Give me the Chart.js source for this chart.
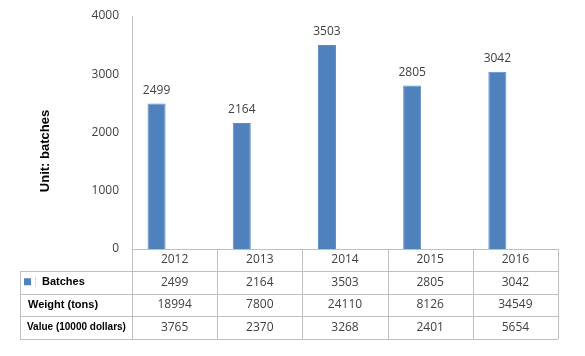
<!DOCTYPE html>
<html>
<head>
<meta charset="utf-8">
<script src="https://cdn.jsdelivr.net/npm/chart.js@4/dist/chart.umd.min.js"></script>
<style>
html,body{margin:0;padding:0;background:#fff;}
#c{display:block;}
</style>
</head>
<body>
<canvas id="c" width="585" height="356"></canvas>
<script>
const years = ['2012', '2013', '2014', '2015', '2016'];
const batches = [2499, 2164, 3503, 2805, 3042];
const weight = [18994, 7800, 24110, 8126, 34549];
const value = [3765, 2370, 3268, 2401, 5654];
const rowLabels = ['Batches', 'Weight (tons)', 'Value (10000 dollars)'];
const yTicks = [0, 1000, 2000, 3000, 4000];
const axisTitle = 'Unit: batches';

const BAR = '#4f81bd';
const LINE = '#bfbfbf';
const TXT = '#404040';
const NUMFONT = '12px "Open Sans", sans-serif';

const tablePlugin = {
  id: 'tablePlugin',
  afterDraw(chart) {
    const ctx = chart.ctx;
    const x = chart.scales.x;
    const area = chart.chartArea;
    const n = years.length;
    const cw = (area.right - area.left) / n;
    const rowsY = [area.bottom + 22, area.bottom + 44.5, area.bottom + 67, area.bottom + 90];
    const tableLeft = 20;
    ctx.save();
    ctx.strokeStyle = LINE;
    ctx.lineWidth = 1;
    ctx.beginPath();
    ctx.moveTo(area.left, Math.round(area.bottom) + 0.5);
    ctx.lineTo(area.right, Math.round(area.bottom) + 0.5);
    rowsY.forEach(ry => {
      ctx.moveTo(tableLeft, Math.round(ry) + 0.5);
      ctx.lineTo(area.right, Math.round(ry) + 0.5);
    });
    ctx.moveTo(tableLeft + 0.5, rowsY[0]);
    ctx.lineTo(tableLeft + 0.5, rowsY[3]);
    ctx.moveTo(Math.round(area.left) + 0.5, area.bottom);
    ctx.lineTo(Math.round(area.left) + 0.5, rowsY[3]);
    for (let i = 0; i < n; i++) {
      const bx = Math.round(x.getPixelForValue(i) + cw / 2) + 0.5;
      ctx.moveTo(bx, area.bottom);
      ctx.lineTo(bx, rowsY[3]);
    }
    ctx.stroke();

    const rows = [batches, weight, value];
    ctx.fillStyle = TXT;
    ctx.font = NUMFONT;
    ctx.textAlign = 'center';
    ctx.textBaseline = 'middle';
    rows.forEach((r, ri) => {
      const cy = (rowsY[ri] + rowsY[ri + 1]) / 2;
      r.forEach((v, i) => {
        ctx.fillText(String(v), x.getPixelForValue(i), cy);
      });
    });

    ctx.fillStyle = '#000';
    ctx.textAlign = 'left';
    const cy0 = (rowsY[0] + rowsY[1]) / 2;
    ctx.font = 'bold 11px "Liberation Sans", Arial, sans-serif';
    ctx.fillText(rowLabels[0], 42, cy0);
    ctx.fillText(rowLabels[1], 28, (rowsY[1] + rowsY[2]) / 2);
    ctx.font = 'bold 10px "Liberation Sans", Arial, sans-serif';
    ctx.fillText(rowLabels[2], 27, (rowsY[2] + rowsY[3]) / 2);
    ctx.fillStyle = BAR;
    ctx.fillRect(24, cy0 - 4, 7, 7);
    ctx.strokeStyle = '#bbb';
    ctx.setLineDash([1, 1]);
    ctx.beginPath();
    ctx.moveTo(35.5, cy0 - 5);
    ctx.lineTo(35.5, cy0 + 5);
    ctx.stroke();
    ctx.setLineDash([]);

    const meta = chart.getDatasetMeta(0);
    ctx.fillStyle = TXT;
    ctx.font = NUMFONT;
    ctx.textAlign = 'center';
    meta.data.forEach((bar, i) => {
      ctx.fillText(String(batches[i]), bar.x, bar.y - 13);
    });

    ctx.save();
    ctx.translate(45, 151);
    ctx.rotate(-Math.PI / 2);
    ctx.fillStyle = '#000';
    ctx.font = 'bold 13px "Liberation Sans", Arial, sans-serif';
    ctx.textAlign = 'center';
    ctx.textBaseline = 'middle';
    ctx.fillText(axisTitle, 0, 0);
    ctx.restore();

    ctx.restore();
  }
};

new Chart(document.getElementById('c'), {
  type: 'bar',
  data: {
    labels: years,
    datasets: [
      { label: 'Batches', data: batches, backgroundColor: BAR, borderColor: '#5b8cc6', borderWidth: 1 },
      { label: 'Weight (tons)', data: years.map(() => null), backgroundColor: 'rgba(0,0,0,0)' },
      { label: 'Value (10000 dollars)', data: years.map(() => null), backgroundColor: 'rgba(0,0,0,0)' }
    ]
  },
  options: {
    responsive: false,
    devicePixelRatio: 1,
    animation: false,
    layout: { padding: { top: 16, right: 27, bottom: 85, left: 0 } },
    datasets: { bar: { categoryPercentage: 0.635, barPercentage: 1 } },
    plugins: { legend: { display: false }, tooltip: { enabled: false } },
    scales: {
      x: {
        grid: { display: false, drawTicks: false },
        border: { display: false },
        ticks: { color: TXT, font: { family: '"Open Sans", sans-serif', size: 12 }, padding: 3, maxRotation: 0 },
        afterFit(s) { s.height = 22; s.paddingLeft = 0; s.paddingRight = 0; }
      },
      y: {
        min: 0, max: 4000,
        afterBuildTicks(s) { s.ticks = yTicks.map(v => ({ value: v })); },
        grid: { display: false, drawTicks: false },
        border: { display: true, color: LINE, width: 1 },
        ticks: { color: TXT, font: { family: '"Open Sans", sans-serif', size: 12 }, padding: 13, callback: v => String(v) },
        afterFit(s) { s.width = 132; s.paddingTop = 0; s.paddingBottom = 0; }
      }
    }
  },
  plugins: [tablePlugin]
});
</script>
</body>
</html>
